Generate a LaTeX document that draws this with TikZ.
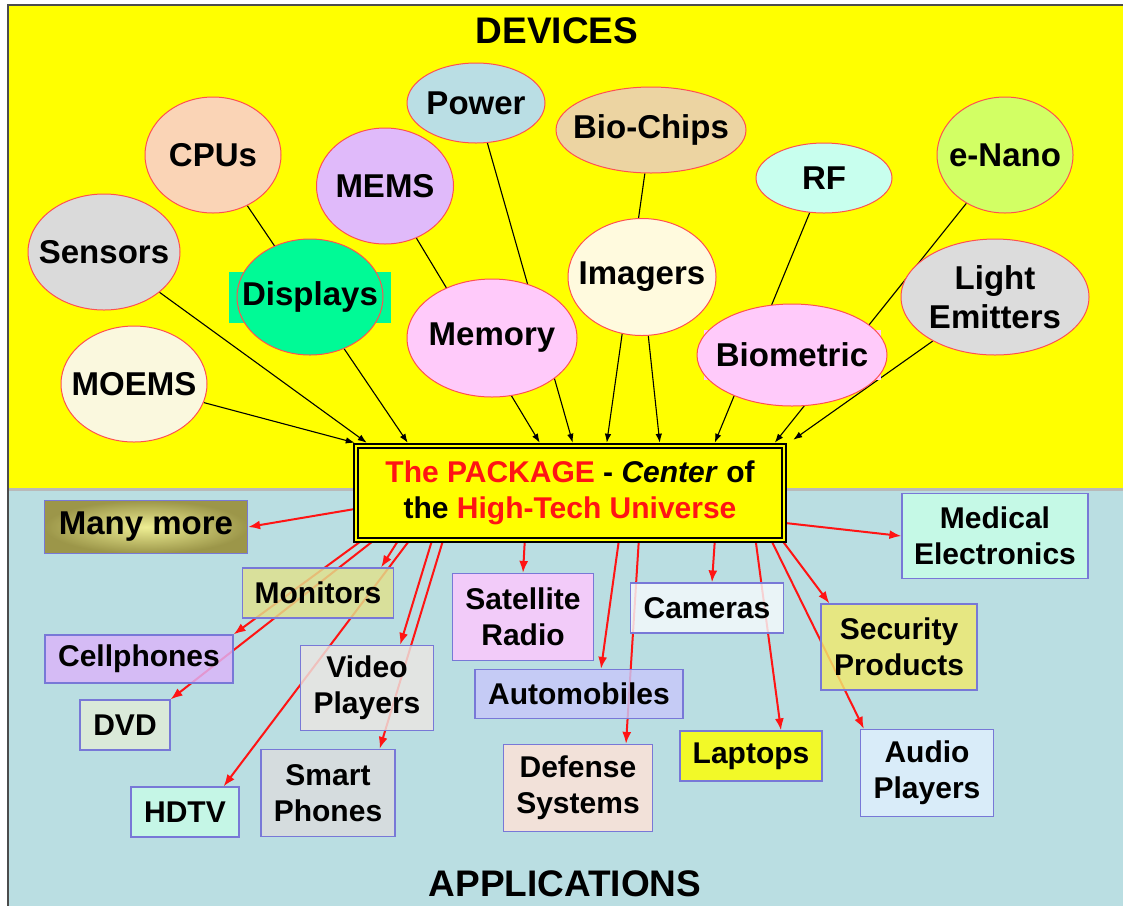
\documentclass[tikz,border=0pt]{standalone}
\usepackage{fontspec}
\setmainfont{Liberation Sans}
\usetikzlibrary{shapes.geometric,arrows.meta,calc}
\pgfdeclarelayer{back}
\pgfdeclarelayer{links}
\pgfsetlayers{back,links,main}
\definecolor{topyel}{RGB}{255,255,0}
\definecolor{lowblue}{RGB}{186,222,226}
\definecolor{ovalline}{RGB}{255,80,80}
\definecolor{appline}{RGB}{120,120,215}
\definecolor{pkgred}{RGB}{255,20,20}
\definecolor{cpucol}{RGB}{250,212,182}
\definecolor{sencol}{RGB}{218,218,218}
\definecolor{moecol}{RGB}{250,248,222}
\definecolor{discol}{RGB}{0,250,150}
\definecolor{memscol}{RGB}{224,186,250}
\definecolor{powcol}{RGB}{186,222,228}
\definecolor{memcol}{RGB}{255,202,250}
\definecolor{biocol}{RGB}{236,212,162}
\definecolor{rfcol}{RGB}{200,255,238}
\definecolor{nanocol}{RGB}{210,255,100}
\definecolor{imgcol}{RGB}{255,250,222}
\definecolor{lightcol}{RGB}{220,220,220}
\definecolor{moncol}{RGB}{225,225,140}
\definecolor{cellcol}{RGB}{220,180,250}
\definecolor{dvdcol}{RGB}{226,236,216}
\definecolor{vidcol}{RGB}{236,230,226}
\definecolor{hdtvcol}{RGB}{200,252,232}
\definecolor{smartcol}{RGB}{220,220,222}
\definecolor{satcol}{RGB}{255,200,255}
\definecolor{autocol}{RGB}{200,200,250}
\definecolor{defcol}{RGB}{255,226,216}
\definecolor{medcol}{RGB}{200,255,232}
\definecolor{camcol}{RGB}{245,250,252}
\definecolor{seccol}{RGB}{240,234,110}
\definecolor{audcol}{RGB}{225,240,255}
\definecolor{manyin}{RGB}{250,242,130}
\definecolor{manyout}{RGB}{150,135,40}
\begin{document}
\begin{tikzpicture}[x=1pt,y=-1pt,
	dev/.style={ellipse,draw=ovalline,line width=1pt,inner sep=0pt},
	lbl/.style={font=\bfseries\fontsize{33}{39}\selectfont,align=center},
	app/.style={draw=appline,line width=1.2pt,fill opacity=0.82,text opacity=1,inner sep=0pt,
		font=\bfseries\fontsize{30}{36}\selectfont,align=center},
	title/.style={font=\bfseries\fontsize{37}{42}\selectfont},
	devlink/.style={line width=1.1pt,-{Latex[length=9pt,width=6.5pt]}},
	applink/.style={pkgred,line width=2pt,-{Latex[length=12pt,width=9pt]}}]
	\useasboundingbox (0,0) rectangle (1123,906);
	\begin{pgfonlayer}{back}
		\fill[white] (0,0) rectangle (1123,906);
		\fill[topyel] (8,5) rectangle (1123,488);
		\fill[lowblue] (8,491) rectangle (1123,906);
		\draw[gray!55,line width=2.5pt] (8,489.5) -- (1123,489.5);
		\draw[black!70,line width=1.2pt] (1123,5) -- (8,5) -- (8,906);
	\end{pgfonlayer}
	\node[title] (devt) at (557,31) {DEVICES};
	\node[title] (appt) at (565,884) {APPLICATIONS};
	\node[draw=black,double=topyel,double distance=2.5pt,line width=2pt,fill=topyel,
		minimum width=428,minimum height=94,outer sep=3.25pt,
		font=\bfseries\fontsize{30}{36}\selectfont,align=center] (pkg) at (570,493)
		{\textcolor{pkgred}{The PACKAGE} - \textit{Center} of\\the \textcolor{pkgred}{High-Tech Universe}};
	\node[dev,fill=cpucol,minimum width=136,minimum height=116,label={[lbl]center:CPUs}] (cpu) at (213,155) {};
	\node[dev,fill=sencol,minimum width=152,minimum height=116,label={[lbl]center:Sensors}] (sen) at (104,252) {};
	\node[dev,fill=moecol,minimum width=146,minimum height=116,label={[lbl]center:MOEMS}] (moe) at (134,384) {};
	\node[fill=discol,minimum width=162,minimum height=51,inner sep=0pt] (disbg) at (310,297.5) {};
	\node[dev,fill=discol,minimum width=146,minimum height=116,label={[lbl]center:Displays}] (dis) at (310,297) {};
	\node[dev,fill=memscol,minimum width=137,minimum height=116,label={[lbl]center:MEMS}] (mems) at (385,186) {};
	\node[dev,fill=powcol,minimum width=138,minimum height=80,label={[lbl]center:Power}] (pow) at (476,103) {};
	\node[dev,fill=memcol,minimum width=170,minimum height=118,label={[lbl]center:Memory}] (mem) at (492,338) {};
	\node[dev,fill=biocol,minimum width=190,minimum height=86,label={[lbl]center:Bio-Chips}] (bio) at (651,130) {};
	\node[dev,fill=rfcol,minimum width=136,minimum height=70,label={[lbl]center:RF}] (rf) at (824,178) {};
	\node[dev,fill=nanocol,minimum width=136,minimum height=116,label={[lbl]center:e-Nano}] (nano) at (1005,155) {};
	\node[dev,fill=imgcol,minimum width=148,minimum height=117,label={[lbl]center:Imagers}] (img) at (642,277) {};
	\node[fill=memcol,minimum width=177,minimum height=50,inner sep=0pt] (biombg) at (792,355) {};
	\node[dev,fill=memcol,minimum width=190,minimum height=102,label={[lbl]center:Biometric}] (biom) at (792,355) {};
	\node[dev,fill=lightcol,minimum width=188,minimum height=116,label={[lbl]center:Light\\Emitters}] (light) at (995,297) {};
	\node[app,inner color=manyin,outer color=manyout,minimum width=203,minimum height=53,
		font=\bfseries\fontsize{33}{38}\selectfont] (many) at (146,527) {Many more};
	\node[app,fill=moncol,minimum width=151,minimum height=50] (mon) at (318,593) {Monitors};
	\node[app,fill=cellcol,minimum width=188,minimum height=48] (cell) at (139,659) {Cellphones};
	\node[app,fill=dvdcol,minimum width=90,minimum height=50] (dvd) at (125,725) {DVD};
	\node[app,fill=vidcol,minimum width=133,minimum height=85] (vid) at (367,688) {Video\\Players};
	\node[app,fill=hdtvcol,minimum width=108,minimum height=50] (hdtv) at (185,812) {HDTV};
	\node[app,fill=smartcol,minimum width=134,minimum height=87] (smart) at (328,793) {Smart\\Phones};
	\node[app,fill=satcol,minimum width=141,minimum height=87] (sat) at (523,617) {Satellite\\Radio};
	\node[app,fill=autocol,minimum width=208,minimum height=49] (auto) at (579,694) {Automobiles};
	\node[app,fill=defcol,minimum width=149,minimum height=87] (def) at (578,788) {Defense\\Systems};
	\node[app,fill=medcol,minimum width=186,minimum height=85] (med) at (995,536) {Medical\\Electronics};
	\node[app,fill=camcol,minimum width=153,minimum height=50] (cam) at (707,608) {Cameras};
	\node[app,fill=seccol,minimum width=156,minimum height=86] (sec) at (899,647) {Security\\Products};
	\node[app,fill=topyel,minimum width=142,minimum height=50] (lap) at (751,756) {Laptops};
	\node[app,fill=audcol,minimum width=133,minimum height=87] (aud) at (927,773) {Audio\\Players};
	\begin{pgfonlayer}{links}
		\draw[devlink] (moe) -- ($(pkg.north west)+(2,0)$);
		\draw[devlink] (sen) -- ($(pkg.north west)+(14,0)$);
		\draw[devlink] (cpu) -- ($(pkg.north west)+(55,0)$);
		\draw[devlink] (mems) -- ($(pkg.north west)+(187,0)$);
		\draw[devlink] (pow) -- ($(pkg.north west)+(220,0)$);
		\draw[devlink] (bio) -- ($(pkg.north west)+(254,0)$);
		\draw[devlink] (img) -- ($(pkg.north west)+(307,0)$);
		\draw[devlink] (rf) -- ($(pkg.north west)+(362,0)$);
		\draw[devlink] (nano) -- ($(pkg.north west)+(422,0)$);
		\draw[devlink] (light) -- ($(pkg.north east)+(6,-3)$);
		\draw[applink] ($(pkg.west)+(2,16)$) -- (many.east);
		\draw[applink] ($(pkg.south west)+(8,-2)$) -- (cell.north east);
		\draw[applink] ($(pkg.south west)+(20,-2)$) -- (dvd.north east);
		\draw[applink] ($(pkg.south west)+(45,-2)$) -- ($(mon.north east)+(-13,0)$);
		\draw[applink] ($(pkg.south west)+(56,-2)$) -- ($(hdtv.north east)+(-16,0)$);
		\draw[applink] ($(pkg.south west)+(79,-2)$) -- ($(vid.north east)+(-34,0)$);
		\draw[applink] ($(pkg.south west)+(90,-2)$) -- ($(smart.north east)+(-16,0)$);
		\draw[applink] ($(pkg.south west)+(172,-2)$) -- (sat.north);
		\draw[applink] ($(pkg.south west)+(266,-2)$) -- ($(auto.north)+(22,0)$);
		\draw[applink] ($(pkg.south west)+(286,-2)$) -- ($(def.north)+(48,0)$);
		\draw[applink] ($(pkg.south west)+(362,-2)$) -- ($(cam.north)+(5,0)$);
		\draw[applink] ($(pkg.south west)+(403,-2)$) -- ($(lap.north)+(30,0)$);
		\draw[applink] ($(pkg.south west)+(419,-2)$) -- ($(aud.north west)+(4,0)$);
		\draw[applink] ($(pkg.south west)+(430,-2)$) -- ($(sec.north west)+(9,0)$);
		\draw[applink] ($(pkg.east)+(-2,30)$) -- (med.west);
	\end{pgfonlayer}
\end{tikzpicture}
\end{document}
